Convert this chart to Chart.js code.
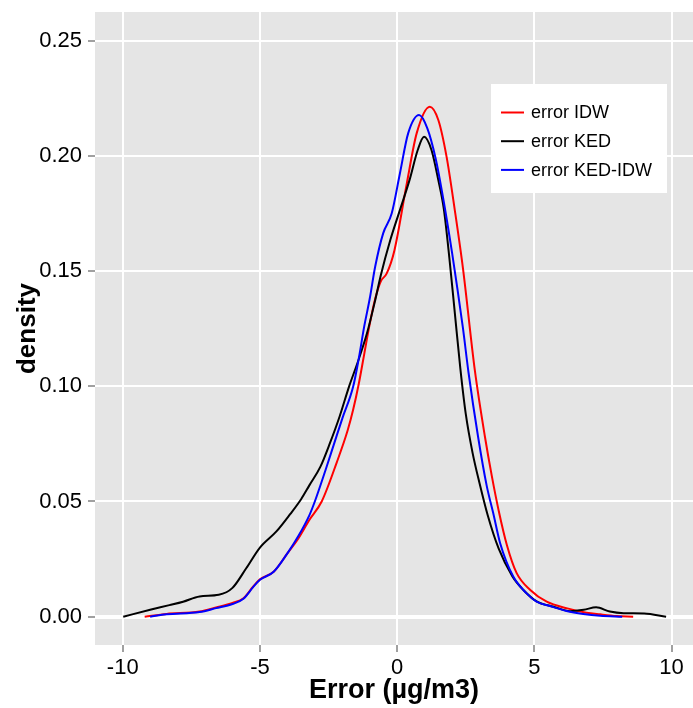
<!DOCTYPE html>
<html>
<head>
<meta charset="utf-8">
<script src="https://cdn.jsdelivr.net/npm/chart.js@4.4.1/dist/chart.umd.min.js"></script>
<style>
  html, body { margin: 0; padding: 0; background: #ffffff; }
  #wrap { width: 693px; height: 708px; }
</style>
</head>
<body>
<div id="wrap"><canvas id="densityChart" width="693" height="708"></canvas></div>
<script>
// Axis ticks
const xTicks = [-10, -5, 0, 5, 10];
const yTicks = [0, 0.05, 0.10, 0.15, 0.20, 0.25];

// Series names (legend order)
const seriesNames = ['error IDW', 'error KED', 'error KED-IDW'];

// error IDW (red) - density
const idwX = [-9.2, -8.4, -7.2, -6.6, -6.0, -5.6, -5.25, -5.0, -4.5, -4.0, -3.6, -3.2, -2.75, -2.2, -1.8, -1.6, -1.4, -1.2, -1.0, -0.8, -0.6, -0.38, -0.1, 0.35, 0.71, 1.19, 1.5, 1.8, 2.1, 2.4, 2.83, 3.2, 3.45, 3.7, 4.0, 4.35, 4.85, 5.45, 6.2, 6.9, 7.4, 8.0, 8.6];
const idwY = [0, 0.0012, 0.0022, 0.004, 0.006, 0.008, 0.013, 0.0162, 0.0195, 0.0275, 0.034, 0.042, 0.05, 0.067, 0.081, 0.09, 0.101, 0.114, 0.127, 0.138, 0.1455, 0.149, 0.159, 0.188, 0.2098, 0.2214, 0.2156, 0.1997, 0.1765, 0.151, 0.107, 0.078, 0.061, 0.046, 0.031, 0.019, 0.0116, 0.0065, 0.0036, 0.0017, 0.001, 0.0003, 0];

// error KED (black)
const kedX = [-9.98, -9.0, -8.3, -7.8, -7.2, -6.5, -6.0, -5.5, -5.0, -4.4, -3.9, -3.5, -3.2, -2.8, -2.45, -2.1, -1.75, -1.45, -1.1, -0.8, -0.6, -0.25, 0.1, 0.45, 0.75, 0.98, 1.25, 1.5, 1.7, 1.9, 2.1, 2.3, 2.5, 2.75, 3.0, 3.3, 3.7, 4.2, 4.6, 5.1, 5.7, 6.3, 6.8, 7.25, 7.75, 8.25, 9.0, 9.8];
const kedY = [0, 0.003, 0.005, 0.0065, 0.0088, 0.0095, 0.0125, 0.021, 0.030, 0.037, 0.0445, 0.051, 0.057, 0.065, 0.0753, 0.0868, 0.1, 0.11, 0.123, 0.1374, 0.148, 0.1635, 0.1765, 0.1895, 0.2026, 0.2083, 0.2026, 0.1895, 0.177, 0.156, 0.132, 0.108, 0.088, 0.071, 0.058, 0.044, 0.0295, 0.0175, 0.0116, 0.0065, 0.0043, 0.0024, 0.003, 0.0041, 0.0022, 0.0015, 0.0014, 0];

// error KED-IDW (blue)
const kedIdwX = [-9.0, -8.4, -7.2, -6.6, -6.0, -5.6, -5.25, -5.0, -4.5, -4.0, -3.6, -3.2, -3.0, -2.6, -2.3, -2.0, -1.6, -1.4, -1.2, -1.0, -0.8, -0.51, -0.2, 0.1, 0.4, 0.8, 1.1, 1.4, 1.7, 2.0, 2.2, 2.4, 2.6, 2.95, 3.26, 3.5, 3.75, 4.23, 4.72, 5.08, 5.57, 6.17, 6.78, 7.4, 8.2];
const kedIdwY = [0, 0.001, 0.002, 0.0037, 0.0055, 0.0078, 0.0128, 0.016, 0.0195, 0.0275, 0.035, 0.044, 0.05, 0.064, 0.075, 0.086, 0.1, 0.112, 0.126, 0.138, 0.152, 0.1664, 0.175, 0.1924, 0.2098, 0.2178, 0.212, 0.199, 0.18, 0.158, 0.142, 0.125, 0.106, 0.078, 0.057, 0.045, 0.032, 0.0174, 0.0101, 0.0065, 0.0046, 0.0025, 0.0012, 0.0004, 0];

const toPoints = (xs, ys) => xs.map((x, i) => ({ x: x, y: ys[i] }));

const FONT = '"Liberation Sans", Arial, Helvetica, sans-serif';

// Grey panel behind the grid
const panelBackground = {
  id: 'panelBackground',
  beforeDraw(chart) {
    const { ctx, chartArea: a } = chart;
    ctx.save();
    ctx.fillStyle = '#E5E5E5';
    ctx.fillRect(a.left, a.top, a.right - a.left, a.bottom - a.top);
    ctx.restore();
  }
};

// Legend inside the panel, ggplot style
const insideLegend = {
  id: 'insideLegend',
  afterDatasetsDraw(chart) {
    const { ctx, chartArea: a } = chart;
    const boxX = a.right - 202;
    const boxY = a.top + 72;
    ctx.save();
    ctx.fillStyle = '#ffffff';
    ctx.fillRect(boxX, boxY, 176, 109);
    ctx.font = '18px ' + FONT;
    ctx.textBaseline = 'middle';
    ctx.textAlign = 'left';
    [0, 1, 2].forEach((idx, row) => {
      const ds = chart.data.datasets[idx];
      const y = boxY + 28.5 + row * 28.7;
      ctx.strokeStyle = ds.borderColor;
      ctx.lineWidth = 2;
      ctx.beginPath();
      ctx.moveTo(boxX + 10, y);
      ctx.lineTo(boxX + 33, y);
      ctx.stroke();
      ctx.fillStyle = '#000000';
      ctx.fillText(seriesNames[idx], boxX + 40, y + 1);
    });
    ctx.restore();
  }
};

const ctx = document.getElementById('densityChart').getContext('2d');

new Chart(ctx, {
  type: 'line',
  data: {
    datasets: [
      { label: seriesNames[0], data: toPoints(idwX, idwY), borderColor: '#FF0000', order: 3 },
      { label: seriesNames[1], data: toPoints(kedX, kedY), borderColor: '#000000', order: 2 },
      { label: seriesNames[2], data: toPoints(kedIdwX, kedIdwY), borderColor: '#0000FF', order: 1 }
    ]
  },
  options: {
    responsive: false,
    animation: false,
    devicePixelRatio: 1,
    layout: { padding: { top: 12, right: 0, left: 0, bottom: 0 } },
    elements: {
      line: { borderWidth: 2, fill: false, cubicInterpolationMode: 'monotone' },
      point: { radius: 0, hoverRadius: 0 }
    },
    plugins: {
      legend: { display: false },
      tooltip: { enabled: false }
    },
    scales: {
      x: {
        type: 'linear',
        min: -11.01,
        max: 10.78,
        afterFit(scale) {
          scale.height = 63;
          scale.paddingLeft = 0;
          scale.paddingRight = 0;
        },
        afterBuildTicks(scale) { scale.ticks = xTicks.map(v => ({ value: v })); },
        border: { display: false },
        grid: {
          color: '#ffffff',
          lineWidth: 2,
          tickColor: '#808080',
          tickLength: 7,
          tickWidth: 1.5
        },
        ticks: {
          color: '#000000',
          font: { family: FONT, size: 22 },
          padding: 3,
          maxRotation: 0,
          callback: v => String(v)
        },
        title: {
          display: true,
          text: 'Error (µg/m3)',
          color: '#000000',
          font: { family: FONT, size: 27, weight: 'bold' },
          padding: { top: 0, bottom: 1 }
        }
      },
      y: {
        type: 'linear',
        min: -0.0123,
        max: 0.2625,
        afterFit(scale) {
          scale.width = 95;
          scale.paddingTop = 0;
          scale.paddingBottom = 0;
        },
        afterBuildTicks(scale) { scale.ticks = yTicks.map(v => ({ value: v })); },
        border: { display: false },
        grid: {
          color: '#ffffff',
          lineWidth: c => (c.tick && c.tick.value === 0 ? 4 : 2),
          tickColor: '#808080',
          tickLength: 7,
          tickWidth: 1.5
        },
        ticks: {
          color: '#000000',
          font: { family: FONT, size: 22 },
          padding: 6,
          callback: v => Number(v).toFixed(2)
        },
        title: {
          display: true,
          text: 'density',
          color: '#000000',
          font: { family: FONT, size: 26, weight: 'bold' },
          padding: { top: 12, bottom: 0 }
        }
      }
    }
  },
  plugins: [panelBackground, insideLegend]
});
</script>
</body>
</html>
